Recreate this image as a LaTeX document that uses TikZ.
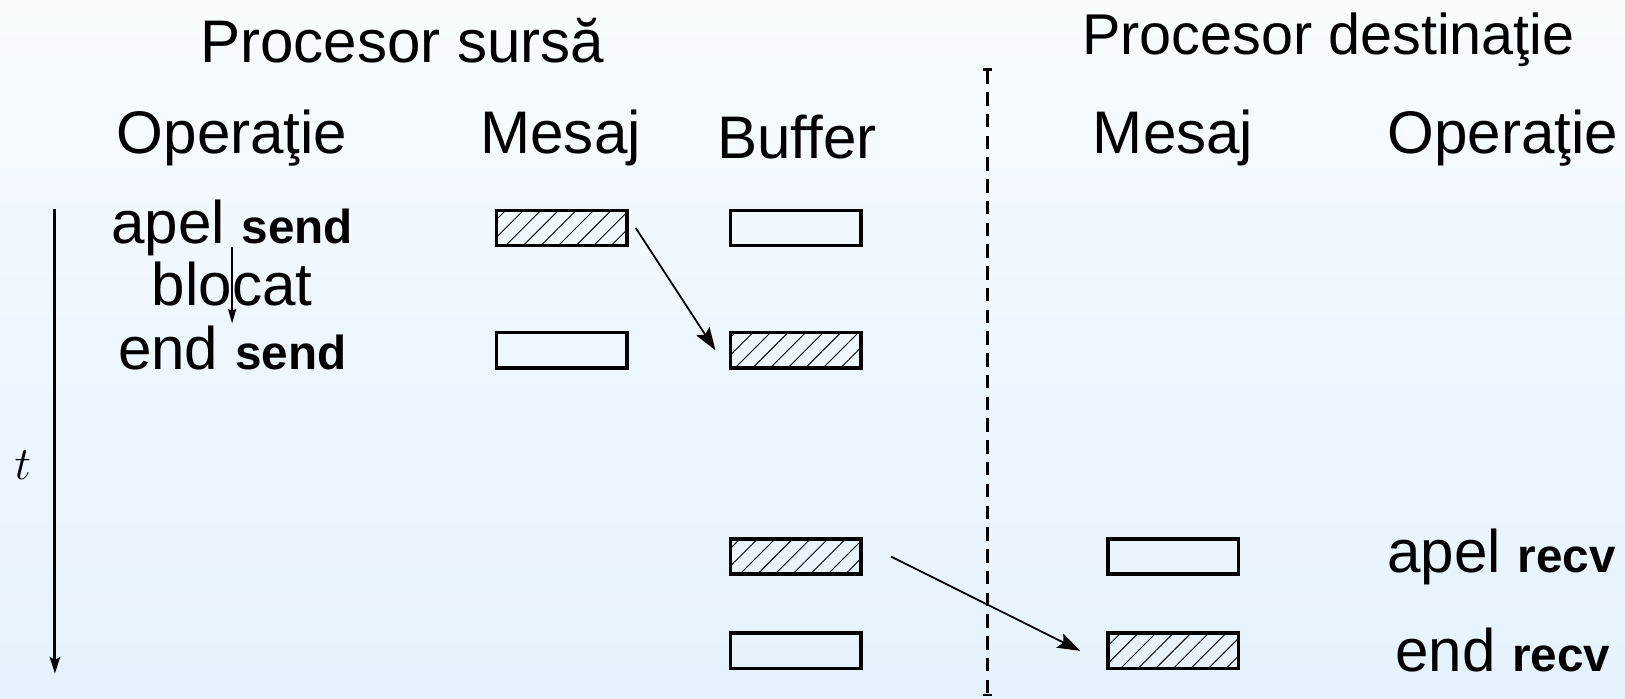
\RequirePackage{fix-cm}
\documentclass[tikz,border=0pt]{standalone}
\usepackage{fontspec}
\setmainfont{Liberation Sans}
\usetikzlibrary{arrows.meta,patterns.meta,calc}
\newcommand{\mybold}[1]{{\fontsize{46}{48}\selectfont\bfseries #1}}
\begin{document}
\begin{tikzpicture}[x=1pt,y=-1pt,
  txt/.style={inner sep=0pt,anchor=base,font=\fontsize{58}{60}\selectfont},
  box/.style={draw,line width=3.4pt,minimum width=126pt,minimum height=34pt,inner sep=0pt},
  hatch/.style={box,pattern={Lines[angle=45,distance=12pt,line width=0.9pt]}},
  conn/.style={line width=1.7pt,-{Stealth[length=22pt,width=15pt,inset=4pt]}},
  taxis/.style={line width=3pt,-{Stealth[length=16pt,width=10pt,inset=3pt]}},
  sep/.style={line width=2.4pt,dash pattern=on 13pt off 8pt,{Bar[width=9pt,line width=2.4pt]}-{Bar[width=9pt,line width=2.4pt]}}]
\useasboundingbox (0,0) rectangle (1568,674);
\shade[top color={rgb,255:red,248;green,252;blue,255},bottom color={rgb,255:red,229;green,242;blue,253}] (0,0) rectangle (1568,674);
% headers
\node[txt] (ps) at (388,60) {Procesor sursă};
\node[txt,font=\fontsize{55.5}{58}\selectfont] (pd) at (1282,53) {Procesor destinaţie};
\node[txt] (ho1) at (224,148) {Operaţie};
\node[txt] (hm1) at (541,148) {Mesaj};
\node[txt] (hb) at (769,153) {Buffer};
\node[txt] (hm2) at (1132,148) {Mesaj};
\node[txt] (ho2) at (1450,148) {Operaţie};
% operations
\node[txt] (as) at (224,235) {apel \mybold{send}};
\node[txt] (bl) at (224,295) {blocat};
\node[txt] (es) at (224,357) {end \mybold{send}};
\node[txt] (ar) at (1449,552) {apel \mybold{recv}};
\node[txt] (er) at (1450,648) {end \mybold{recv}};
\node[inner sep=0pt,anchor=base,font=\fontsize{45}{46}\selectfont] (t) at (22,463) {$t$};
% boxes
\node[hatch] (m1) at (542,220) {};
\node[box] (m2) at (542,338) {};
\node[box] (b1) at (768,220) {};
\node[hatch] (b2) at (768,338) {};
\node[hatch] (b3) at (768,537) {};
\node[box] (b4) at (768,628) {};
\node[box] (d1) at (1132,537) {};
\node[hatch] (d2) at (1132,628) {};
% connectors
\draw[conn] ($(m1.east)+(8,0)$) -- ($(b2.west)+(-13,0)$);
\draw[conn] ($(b3.east)+(27,0)$) -- ($(d2.west)+(-25,0)$);
\coordinate (blA) at (224,238);
\coordinate (blB) at (224,312);
\draw[line width=1.4pt,-{Stealth[length=14pt,width=8pt,inset=2pt]}] (blA) -- (blB);
\coordinate (tA) at (53,202);
\coordinate (tB) at (53,650);
\draw[taxis] (tA) -- (tB);
\coordinate (sA) at (953,66);
\coordinate (sB) at (953,672);
\draw[sep] (sA) -- (sB);
\end{tikzpicture}
\end{document}
